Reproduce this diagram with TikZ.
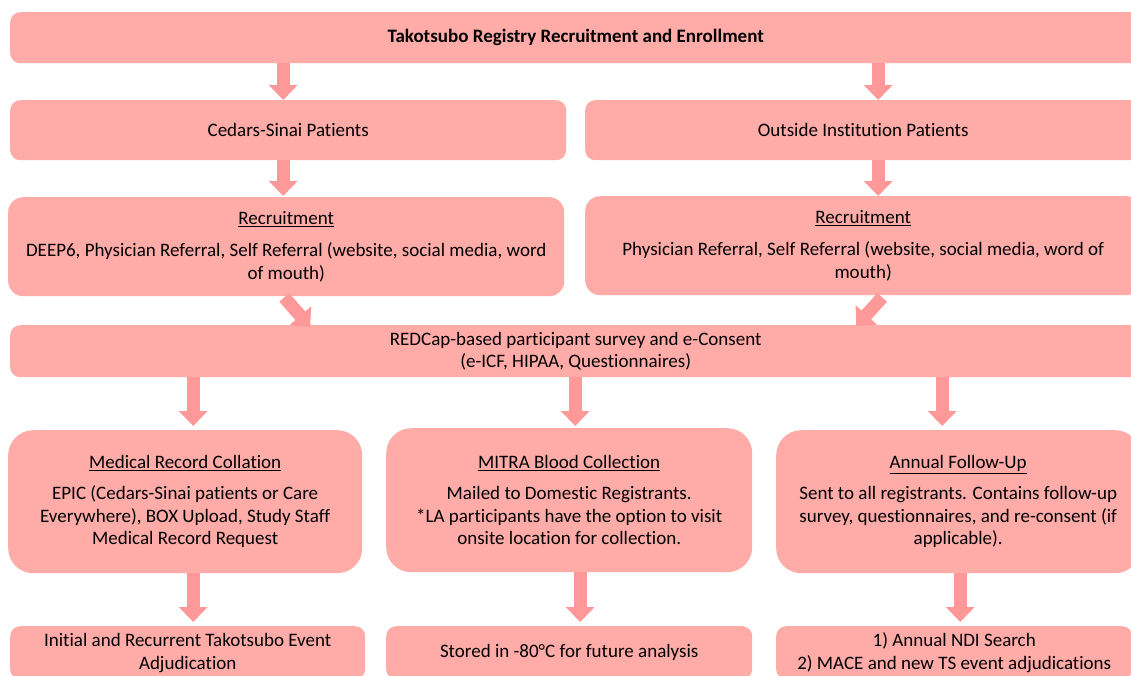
\documentclass[tikz,border=0pt]{standalone}
\usepackage{fontspec}
\setmainfont{Carlito}[Ligatures=NoCommon]
\usetikzlibrary{arrows.meta,calc}
\definecolor{boxred}{RGB}{255,171,168}
\definecolor{arrowred}{RGB}{255,153,153}
\tikzset{
    %Define style for boxes
    boks/.style={
           rectangle,
           rounded corners=10pt,
           fill=boxred,
           anchor=north west,
           align=center,
           inner sep=0pt},
    % Define block arrow style
    blokkpil/.style={
           draw=arrowred,
           line width=13pt,
           -{Triangle[width=28pt,length=15pt]}}
}

\begin{document}
\begin{tikzpicture}[x=1pt,y=-1pt,font=\fontsize{19}{22.8}\selectfont]
  \clip (0,0) rectangle (1131,675);
  % top row
  \node[boks,minimum width=1131pt,minimum height=51pt] (tittel) at (10,12)
    {\textbf{Takotsubo Registry Recruitment and Enrollment}};
  \node[boks,minimum width=556pt,minimum height=60pt] (cedars) at (10,100)
    {Cedars-Sinai Patients};
  \node[boks,minimum width=556pt,minimum height=60pt] (outside) at (585,100)
    {Outside Institution Patients};
  \node[boks,rounded corners=15pt,minimum width=556pt,minimum height=99pt] (recl) at (8,197)
    {\underline{Recruitment}\\[9pt]
     DEEP6, Physician Referral, Self Referral (website, social media, word\\ of mouth)};
  \node[boks,rounded corners=15pt,minimum width=556pt,minimum height=99pt] (recr) at (585,196)
    {\underline{Recruitment}\\[9pt]
     Physician Referral, Self Referral (website, social media, word of\\ mouth)};
  \node[boks,minimum width=1131pt,minimum height=52pt] (redcap) at (10,325)
    {REDCap-based participant survey and e-Consent\\ (e-ICF, HIPAA, Questionnaires)};
  % three branches
  \node[boks,rounded corners=25pt,minimum width=354pt,minimum height=143pt] (medrec) at (8,430)
    {\underline{Medical Record Collation}\\[8pt]
     EPIC (Cedars-Sinai patients or Care\\ Everywhere), BOX Upload, Study Staff\\ Medical Record Request};
  \node[boks,rounded corners=25pt,minimum width=366pt,minimum height=144pt] (mitra) at (386,428)
    {\underline{MITRA Blood Collection}\\[8pt]
     Mailed to Domestic Registrants.\\ *LA participants have the option to visit\\ onsite location for collection.};
  \node[boks,rounded corners=25pt,minimum width=364pt,minimum height=143pt] (followup) at (776,430)
    {\underline{Annual Follow-Up}\\[8pt]
     Sent to all registrants. Contains follow-up\\ survey, questionnaires, and re-consent (if\\ applicable).};
  \node[boks,minimum width=355pt,minimum height=53pt] (adjud) at (10,626)
    {Initial and Recurrent Takotsubo Event\\ Adjudication};
  \node[boks,minimum width=366pt,minimum height=53pt] (stored) at (386,626)
    {Stored in -80°C for future analysis};
  \node[boks,minimum width=356pt,minimum height=53pt] (ndi) at (776,626)
    {1) Annual NDI Search\\ 2) MACE and new TS event adjudications};

  % arrows
  \draw[blokkpil] ($(tittel.south -| cedars.north)+(-5,0)$) -- ($(cedars.north)+(-5,0)$);
  \draw[blokkpil] ($(tittel.south -| outside.north)+(15,0)$) -- ($(outside.north)+(15,0)$);
  \draw[blokkpil] ($(cedars.south -| recl.north)+(-3,0)$) -- ($(recl.north)+(-3,-1)$);
  \draw[blokkpil] ($(outside.south -| recr.north)+(15,0)$) -- ($(recr.north)+(15,0)$);
  \draw[blokkpil] ($(recl.south)+(-2,1)$) -- ($(redcap.north -| recl.south)+(24,2)$);
  \draw[blokkpil] ($(recr.south)+(19,2)$) -- ($(redcap.north -| recr.south)+(-7,1)$);
  \draw[blokkpil] ($(redcap.south -| medrec.north)+(8,0)$) -- ($(medrec.north)+(8,-4)$);
  \draw[blokkpil] ($(redcap.south -| mitra.north)+(6,0)$) -- ($(mitra.north)+(6,-2)$);
  \draw[blokkpil] ($(redcap.south -| followup.north)+(-16,0)$) -- ($(followup.north)+(-16,-4)$);
  \draw[blokkpil] ($(medrec.south)+(8,0)$) -- ($(adjud.north -| medrec.south)+(8,-4)$);
  \draw[blokkpil] ($(mitra.south)+(11,0)$) -- ($(stored.north -| mitra.south)+(11,-4)$);
  \draw[blokkpil] ($(followup.south)+(2,0)$) -- ($(ndi.north -| followup.south)+(2,-4)$);
\end{tikzpicture}
\end{document}
